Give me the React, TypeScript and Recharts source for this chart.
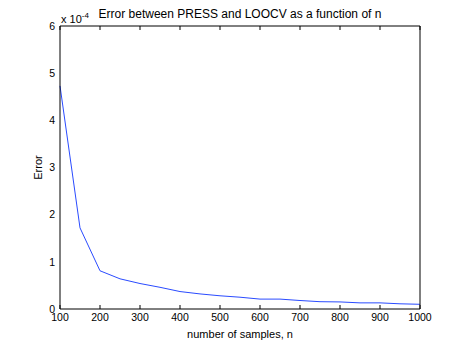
import { Label, Line, LineChart, XAxis, YAxis } from "recharts";

// sample sizes n
const nValues = [
  100, 150, 200, 250, 300, 350, 400, 450, 500, 550, 600, 650, 700, 750, 800,
  850, 900, 950, 1000,
];

// error, in units of 1e-4
const errorValues = [
  4.73, 1.72, 0.81, 0.64, 0.54, 0.46, 0.37, 0.32, 0.28, 0.25, 0.21, 0.21, 0.18,
  0.155, 0.15, 0.13, 0.13, 0.11, 0.1,
];

const xTicks = [100, 200, 300, 400, 500, 600, 700, 800, 900, 1000];
const yTicks = [0, 1, 2, 3, 4, 5, 6];

const chartData = nValues.map((n, i) => ({ n, error: errorValues[i] }));

const font = "'Liberation Sans', Arial, Helvetica, sans-serif";
const tickStyle = { fontSize: 10.5, fill: "#000", fontFamily: font };
const noLabel = () => <g />;

function App() {
  return (
    <div
      style={{
        position: "absolute",
        left: 0,
        top: 0,
        width: 464,
        height: 349,
        background: "#fff",
        fontFamily: font,
      }}
    >
      <div
        style={{
          position: "absolute",
          left: 40,
          width: 400,
          top: 7,
          lineHeight: "14px",
          fontSize: 12,
          textAlign: "center",
          color: "#000",
        }}
      >
        Error between PRESS and LOOCV as a function of n
      </div>
      <div
        style={{
          position: "absolute",
          left: 61,
          top: 9,
          lineHeight: "14px",
          fontSize: 11,
          color: "#000",
        }}
      >
        x 10<sup style={{ fontSize: 8 }}>-4</sup>
      </div>
      <LineChart
        width={464}
        height={349}
        data={chartData}
        margin={{ top: 26, right: 44, left: 0, bottom: 0 }}
      >
        {/* labelled axes, ticks drawn by the mirrored copies */}
        <XAxis
          xAxisId="main"
          dataKey="n"
          type="number"
          domain={[100, 1000]}
          ticks={xTicks}
          height={40}
          tickLine={false}
          tickSize={0}
          tickMargin={5}
          tick={tickStyle}
          axisLine={{ stroke: "#000" }}
        >
          <Label
            value="number of samples, n"
            position="insideBottom"
            offset={11}
            style={{ fontSize: 11, fill: "#000", fontFamily: font }}
          />
        </XAxis>
        <YAxis
          yAxisId="main"
          type="number"
          domain={[0, 6]}
          ticks={yTicks}
          width={60}
          tickLine={false}
          tickSize={0}
          tickMargin={5}
          tick={tickStyle}
          axisLine={{ stroke: "#000" }}
        >
          <Label
            value="Error"
            angle={-90}
            position="insideLeft"
            offset={38}
            style={{ fontSize: 11, fill: "#000", fontFamily: font, textAnchor: "middle" }}
          />
        </YAxis>
        <XAxis
          xAxisId="bottomTicks"
          dataKey="n"
          type="number"
          domain={[100, 1000]}
          ticks={xTicks}
          mirror
          axisLine={false}
          tickSize={4}
          tickLine={{ stroke: "#000" }}
          tick={noLabel}
        />
        <XAxis
          xAxisId="top"
          orientation="top"
          dataKey="n"
          type="number"
          domain={[100, 1000]}
          ticks={xTicks}
          mirror
          axisLine={{ stroke: "#000" }}
          tickSize={4}
          tickLine={{ stroke: "#000" }}
          tick={noLabel}
        />
        <YAxis
          yAxisId="leftTicks"
          type="number"
          domain={[0, 6]}
          ticks={yTicks}
          mirror
          axisLine={false}
          tickSize={4}
          tickLine={{ stroke: "#000" }}
          tick={noLabel}
        />
        <YAxis
          yAxisId="right"
          orientation="right"
          type="number"
          domain={[0, 6]}
          ticks={yTicks}
          mirror
          axisLine={{ stroke: "#000" }}
          tickSize={4}
          tickLine={{ stroke: "#000" }}
          tick={noLabel}
        />
        <Line
          xAxisId="main"
          yAxisId="main"
          type="linear"
          dataKey="error"
          stroke="#2a4bff"
          strokeWidth={1}
          dot={false}
          isAnimationActive={false}
        />
      </LineChart>
    </div>
  );
}

export default App;
